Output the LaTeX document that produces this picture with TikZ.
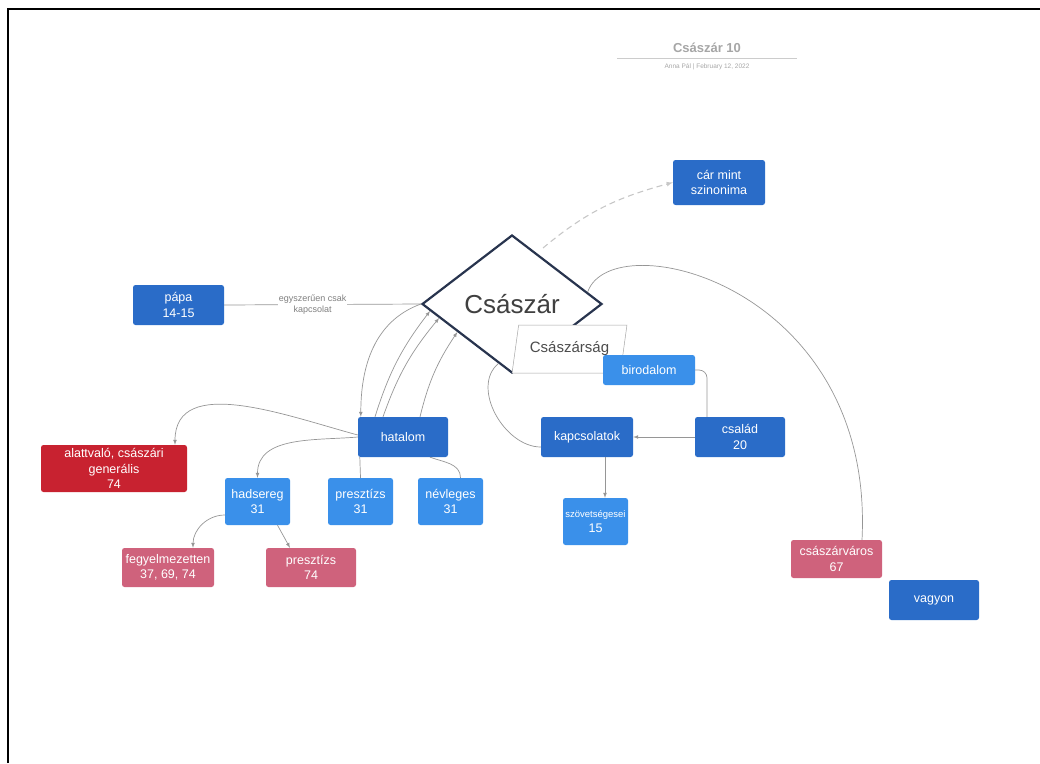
\documentclass[tikz,border=0pt]{standalone}
\usepackage{fontspec}
\setmainfont{Liberation Sans}
\usetikzlibrary{shapes.geometric}
\usetikzlibrary{calc}
\usetikzlibrary{arrows}
\definecolor{sotetkek}{RGB}{42,108,200}
\definecolor{vilagoskek}{RGB}{58,144,234}
\definecolor{piros}{RGB}{200,34,48}
\definecolor{rozsa}{RGB}{207,98,124}
\definecolor{vonalszin}{RGB}{150,150,150}
\definecolor{keret}{RGB}{40,52,78}
\tikzset{
  doboz/.style={rounded corners=2.5pt, text=white, align=center, inner sep=0pt,
    font=\fontsize{12.5}{15.5}\selectfont},
  meret/.style 2 args={minimum width=#1pt, minimum height=#2pt},
  kapcs/.style={draw=vonalszin, line width=0.7pt},
  kapcsny/.style={kapcs, -latex},
}
\begin{document}
\begin{tikzpicture}[x=1pt,y=-1pt]
            \useasboundingbox (0,0) rectangle (1040,763);
            \draw[line width=2pt] (8,763) -- (8,9) -- (1040,9);
            \node[font=\bfseries\fontsize{13}{15}\selectfont, text=black!35] (cim) at (707,48) {Császár 10};
            \draw[black!20, line width=0.8pt] (617,58) -- (797,58);
            \node[font=\fontsize{6.5}{8}\selectfont, text=black!35] (alcim) at (707,67) {Anna Pál | February 12, 2022};
            \node[shape=diamond, draw=keret, line width=2.2pt, fill=white, inner sep=0pt,
                minimum width=180pt, minimum height=138pt, text=black!75,
                font=\fontsize{26}{30}\selectfont] (csaszar) at (512,304) {Császár};
            \node[trapezium, trapezium left angle=75, trapezium right angle=105, trapezium stretches=true,
                draw=black!35, line width=0.5pt, fill=white, minimum width=115pt, minimum height=48pt,
                text=black!70, font=\fontsize{15}{18}\selectfont] (csaszarsag) at (569.5,349) {Császárság};
            \node[doboz, fill=sotetkek, meret={92}{45}] (carmint) at (719,182.5) {cár mint\\szinonima};
            \node[doboz, fill=sotetkek, meret={91}{40}] (papa) at (178.5,305) {pápa\\14-15};
            \node[doboz, fill=vilagoskek, meret={92}{30}] (birodalom) at (649,370) {birodalom};
            \node[doboz, fill=sotetkek, meret={90}{40}] (hatalom) at (403,437) {hatalom};
            \node[doboz, fill=sotetkek, meret={92}{40}] (kapcsolatok) at (587,437) {kapcsolatok};
            \node[doboz, fill=sotetkek, meret={90}{40}] (csalad) at (740,437) {család\\20};
            \node[doboz, fill=piros, meret={146}{47}] (alattvalo) at (114,468.5) {alattvaló, császári\\generális\\74};
            \node[doboz, fill=vilagoskek, meret={65}{47}] (hadsereg) at (257.5,501.5) {hadsereg\\31};
            \node[doboz, fill=vilagoskek, meret={65}{47}] (presztizs) at (360.5,501.5) {presztízs\\31};
            \node[doboz, fill=vilagoskek, meret={65}{47}] (nevleges) at (450.5,501.5) {névleges\\31};
            \node[doboz, fill=vilagoskek, meret={65}{47}, font=\fontsize{9.5}{15.5}\selectfont] (szovetseges) at (595.5,521.5) {szövetségesei\\{\fontsize{12.5}{15}\selectfont 15}};
            \node[doboz, fill=rozsa, meret={92}{39}] (fegyelem) at (168,567.5) {fegyelmezetten\\37, 69, 74};
            \node[doboz, fill=rozsa, meret={90}{39}] (presztizsb) at (311,567.5) {presztízs\\74};
            \node[doboz, fill=rozsa, meret={91}{38}] (csaszarvaros) at (836.5,559) {császárváros\\67};
            \node[doboz, fill=sotetkek, meret={90}{40}] (vagyon) at (934,600) {vagyon};
            \coordinate (szagg) at (543,248);
            \draw[kapcsny, draw=black!22, line width=1.1pt, dash pattern=on 6pt off 4pt] (szagg) to[out=40,in=195] (carmint.west);
            \draw[kapcs] (papa.east) -- node[pos=0.45, fill=white, text=black!50, align=center, inner sep=1pt,
                font=\fontsize{9}{11}\selectfont] (cimke) {egyszerűen csak\\kapcsolat} (csaszar.west);
            \draw[kapcsny] (csaszar.west) to[out=200,in=90] ([xshift=3pt]hatalom.north west);
            \foreach \k/\t in {-28/0.1,-20/0.2,17/0.4} {
                \draw[kapcsny] ([xshift=\k pt]hatalom.north) to[bend left=10] ($(csaszar.west)!\t!(csaszar.south)$);
            }
            \draw[kapcsny] ([yshift=2pt]hatalom.west) to[out=165,in=90] ([xshift=61pt]alattvalo.north);
            \draw[kapcsny] (hatalom.west) to[out=185,in=90] (hadsereg.north);
            \draw[kapcs] ([xshift=2pt]hatalom.south west) -- (presztizs.north);
            \draw[kapcs] ([xshift=27pt]hatalom.south) to[out=-20,in=90] ([xshift=10pt]nevleges.north);
            \draw[kapcsny] ([yshift=-13.5pt]hadsereg.west) to[out=180,in=90] ([xshift=25pt]fegyelem.north);
            \draw[kapcsny] ([xshift=20pt]hadsereg.south) -- ([xshift=-21pt]presztizsb.north);
            \draw[kapcs, rounded corners=8pt] (birodalom.east) -| ([xshift=-33pt]csalad.north);
            \draw[kapcsny] (csalad.west) -- (kapcsolatok.east);
            \draw[kapcsny] ([xshift=18pt]kapcsolatok.south) -- ([xshift=9.5pt]szovetseges.north);
            \draw[kapcs] ($(csaszar.west)!0.85!(csaszar.south)$) to[out=220,in=180] ([yshift=-10pt]kapcsolatok.west);
            \draw[kapcs] ($(csaszar.north)!0.83!(csaszar.east)$) .. controls (612,222) and (875,285) .. ([xshift=25.5pt]csaszarvaros.north);
        \end{tikzpicture}
\end{document}
